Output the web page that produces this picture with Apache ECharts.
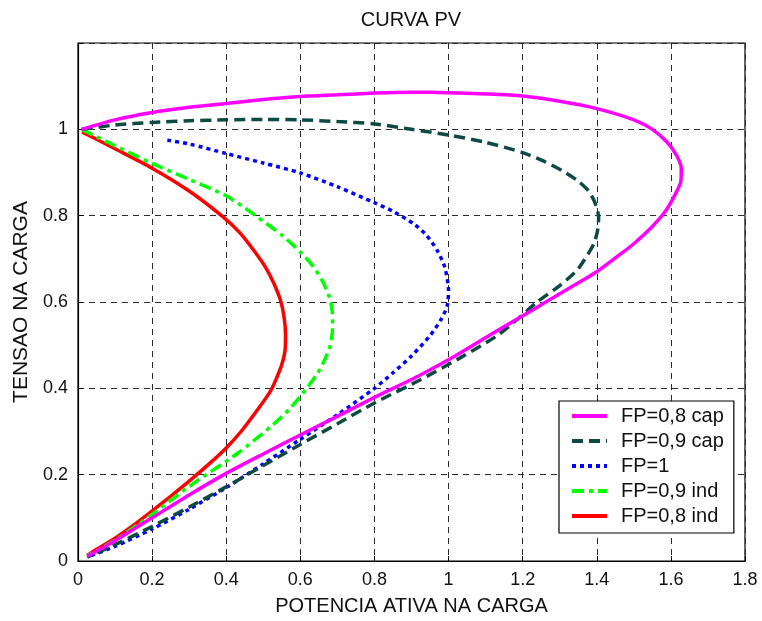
<!DOCTYPE html>
<html>
<head>
<meta charset="utf-8">
<title>CURVA PV</title>
<script src="https://cdn.jsdelivr.net/npm/echarts@6/dist/echarts.min.js"></script>
<style>
  html, body { margin: 0; padding: 0; background: #fff; }
  #chart { width: 762px; height: 621px; }
</style>
</head>
<body>
<div id="chart"></div>
<script>
// Axis ticks
const xTicks = [0, 0.2, 0.4, 0.6, 0.8, 1, 1.2, 1.4, 1.6, 1.8];
const yTicks = [0, 0.2, 0.4, 0.6, 0.8, 1];

// Series names
const seriesNames = ['FP=0,8 cap', 'FP=0,9 cap', 'FP=1', 'FP=0,9 ind', 'FP=0,8 ind'];

// FP = 0,8 capacitivo: potencia ativa (P) e tensao (V), ramo superior -> nariz -> ramo inferior
const cap08P = [0.01, 0.1, 0.2, 0.3, 0.4, 0.5, 0.6, 0.7, 0.8, 0.9, 1.0, 1.1, 1.2, 1.3, 1.4, 1.5, 1.55, 1.59, 1.615, 1.628, 1.627, 1.612, 1.585, 1.55, 1.5, 1.45, 1.4, 1.33, 1.257, 1.19, 1.113, 1.02, 0.924, 0.8, 0.7, 0.6, 0.5, 0.4, 0.3, 0.2, 0.1, 0.025];
const cap08V = [1.0, 1.022, 1.039, 1.051, 1.06, 1.069, 1.076, 1.08, 1.084, 1.086, 1.085, 1.082, 1.077, 1.065, 1.048, 1.022, 1.0, 0.97, 0.94, 0.91, 0.88, 0.85, 0.81, 0.775, 0.735, 0.702, 0.67, 0.634, 0.597, 0.563, 0.524, 0.476, 0.431, 0.379, 0.335, 0.292, 0.248, 0.203, 0.153, 0.1, 0.047, 0.011];

// FP = 0,9 capacitivo
const cap09P = [0.01, 0.1, 0.2, 0.3, 0.4, 0.5, 0.6, 0.7, 0.8, 0.9, 1.0, 1.1, 1.2, 1.26, 1.311, 1.35, 1.378, 1.395, 1.405, 1.402, 1.392, 1.372, 1.347, 1.3, 1.239, 1.19, 1.131, 1.03, 0.924, 0.8, 0.7, 0.6, 0.5, 0.4, 0.3, 0.2, 0.1, 0.025];
const cap09V = [1.0, 1.01, 1.016, 1.02, 1.022, 1.023, 1.022, 1.018, 1.0125, 1.0, 0.987, 0.97, 0.946, 0.925, 0.902, 0.88, 0.857, 0.83, 0.796, 0.765, 0.735, 0.705, 0.674, 0.638, 0.6, 0.563, 0.522, 0.47, 0.42, 0.366, 0.318, 0.27, 0.221, 0.172, 0.125, 0.08, 0.038, 0.009];

// FP = 1
const unitP = [0.241, 0.3, 0.4, 0.5, 0.6, 0.7, 0.8, 0.85, 0.906, 0.94, 0.969, 0.99, 1.0, 0.996, 0.98, 0.95, 0.9, 0.85, 0.8, 0.7, 0.6, 0.5, 0.4, 0.3, 0.2, 0.1, 0.025];
const unitV = [0.975, 0.966, 0.944, 0.922, 0.899, 0.867, 0.83, 0.81, 0.781, 0.755, 0.72, 0.68, 0.625, 0.59, 0.56, 0.522, 0.475, 0.436, 0.4, 0.339, 0.282, 0.225, 0.17, 0.12, 0.074, 0.034, 0.009];

// FP = 0,9 indutivo
const ind09P = [0.01, 0.1, 0.2, 0.3, 0.36, 0.4, 0.44, 0.479, 0.55, 0.6, 0.635, 0.66, 0.678, 0.686, 0.687, 0.681, 0.665, 0.645, 0.618, 0.575, 0.528, 0.43, 0.312, 0.2, 0.1, 0.025];
const ind09V = [1.0, 0.962, 0.921, 0.884, 0.862, 0.846, 0.824, 0.8, 0.755, 0.716, 0.682, 0.648, 0.612, 0.578, 0.54, 0.5, 0.465, 0.433, 0.401, 0.356, 0.317, 0.249, 0.18, 0.108, 0.048, 0.012];

// FP = 0,8 indutivo
const ind08P = [0.011, 0.1, 0.2, 0.3, 0.393, 0.437, 0.474, 0.505, 0.528, 0.546, 0.556, 0.56, 0.559, 0.55, 0.535, 0.519, 0.48, 0.44, 0.4, 0.35, 0.3, 0.25, 0.2, 0.15, 0.1, 0.05, 0.025];
const ind08V = [0.994, 0.955, 0.91, 0.857, 0.796, 0.76, 0.72, 0.682, 0.644, 0.605, 0.566, 0.525, 0.49, 0.455, 0.422, 0.393, 0.345, 0.3, 0.262, 0.222, 0.185, 0.15, 0.116, 0.083, 0.053, 0.027, 0.013];

const pairs = (p, v) => p.map((x, i) => [x, v[i]]);

const FONT = '"Liberation Sans", Arial, sans-serif';

const curveStyles = [
  { color: '#ff00ff', type: 'solid' },
  { color: '#0d4a44', type: [11, 6] },
  { color: '#0000ff', type: [4, 4] },
  { color: '#00ff00', type: [12, 5, 4, 5] },
  { color: '#ff0000', type: 'solid' }
];
const curveData = [
  pairs(cap08P, cap08V),
  pairs(cap09P, cap09V),
  pairs(unitP, unitV),
  pairs(ind09P, ind09V),
  pairs(ind08P, ind08V)
];

const chart = echarts.init(document.getElementById('chart'), null, { renderer: 'canvas' });

const gridLine = { show: true, lineStyle: { color: '#2a2a2a', width: 1, type: [6, 5] } };

chart.setOption({
  backgroundColor: '#fff',
  animation: false,
  title: {
    text: 'CURVA PV',
    left: 411,
    top: 10,
    textAlign: 'center',
    padding: 0,
    textStyle: { fontFamily: FONT, fontSize: 20, fontWeight: 'normal', color: '#111' }
  },
  grid: {
    left: 78, right: 17, top: 43, bottom: 52,
    show: true, borderColor: '#000', borderWidth: 1.2, backgroundColor: '#fff',
    containLabel: false
  },
  legend: {
    data: seriesNames,
    orient: 'vertical',
    left: 559,
    top: 401,
    backgroundColor: '#fff',
    borderColor: '#000',
    borderWidth: 1.2,
    borderRadius: 0,
    padding: [5, 10, 7, 11],
    itemGap: 5,
    itemWidth: 35,
    itemHeight: 14,
    itemStyle: { opacity: 0 },
    lineStyle: { width: 4 },
    textStyle: { fontFamily: FONT, fontSize: 20, color: '#111', lineHeight: 20, padding: [0, 0, 0, 9] }
  },
  xAxis: {
    type: 'value',
    min: xTicks[0],
    max: xTicks[xTicks.length - 1],
    interval: 0.2,
    name: 'POTENCIA ATIVA NA CARGA',
    nameLocation: 'middle',
    nameGap: 35,
    nameTextStyle: { fontFamily: FONT, fontSize: 20, color: '#111' },
    axisLine: { show: true, onZero: false, lineStyle: { color: '#000', width: 1.2 } },
    axisTick: { show: true, inside: true, length: 5, lineStyle: { color: '#000' } },
    axisLabel: {
      margin: 10, fontFamily: FONT, fontSize: 18, color: '#111',
      formatter: v => String(+v.toFixed(1))
    },
    splitLine: gridLine
  },
  yAxis: {
    type: 'value',
    min: yTicks[0],
    max: 1.2,
    interval: 0.2,
    name: 'TENSAO NA CARGA',
    nameLocation: 'middle',
    nameGap: 46,
    nameTextStyle: { fontFamily: FONT, fontSize: 21, color: '#111' },
    axisLine: { show: true, onZero: false, lineStyle: { color: '#000', width: 1.2 } },
    axisTick: { show: true, inside: true, length: 5, lineStyle: { color: '#000' } },
    axisLabel: {
      margin: 10, fontFamily: FONT, fontSize: 18, color: '#111',
      formatter: v => (yTicks.some(t => Math.abs(t - v) < 1e-9) ? String(+v.toFixed(1)) : '')
    },
    splitLine: gridLine
  },
  series: seriesNames.map((name, i) => ({
    name,
    type: 'line',
    data: curveData[i],
    smooth: 0.25,
    showSymbol: false,
    symbol: 'none',
    clip: true,
    color: curveStyles[i].color,
    lineStyle: { color: curveStyles[i].color, width: 3.5, type: curveStyles[i].type, cap: 'butt' },
    z: 10 - i
  }))
});
</script>
</body>
</html>
